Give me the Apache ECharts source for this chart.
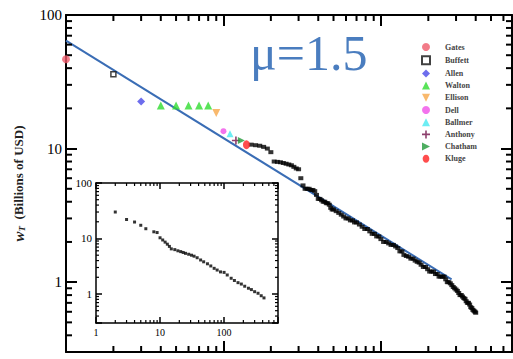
<!DOCTYPE html>
<html>
<head>
<meta charset="utf-8">
<script src="https://cdn.jsdelivr.net/npm/echarts@6/dist/echarts.min.js"></script>
<style>html,body{margin:0;padding:0;background:#fff}#c{width:513px;height:359px}</style>
</head>
<body>
<div id="c"></div>
<script>
// ---- Data ----
const mainRanks = [15,16,17,18,19,20,21,22,23,24,25,26,27,28,29,30,31,32,33,34,35,36,37,38,39,40,41,42,43,44,45,46,47,48,49,50,52,54,56,58,60,62,64,66,68,70,73,76,79,82,85,88,91,94,97,100,104,108,112,116,120,124,128,132,136,140,145,150,155,160,165,170,175,180,186,192,198,204,210,216,222,228,234,240,246,252,258,264,270,276,282,288,294,300,306,312,318,324,330,336,342,348,354,360,366,372,378,384,390,396,400];
const mainWealth = [10.7,10.6,10.5,10.3,10.0,9.4,8.0,7.95,7.9,7.8,7.7,7.6,7.5,7.3,7.1,7.0,6.0,5.3,5.0,5.0,5.0,4.9,4.9,4.8,4.5,4.2,4.2,4.1,4.0,4.0,3.9,3.9,3.8,3.6,3.5,3.5,3.4,3.3,3.2,3.1,3.0,3.0,2.9,2.9,2.8,2.8,2.7,2.6,2.5,2.5,2.4,2.3,2.3,2.2,2.2,2.1,2.0,2.0,1.95,1.9,1.9,1.85,1.8,1.7,1.7,1.6,1.57,1.55,1.5,1.5,1.45,1.42,1.4,1.35,1.3,1.3,1.25,1.2,1.2,1.2,1.15,1.15,1.1,1.1,1.1,1.1,1.05,1.0,1.0,0.98,0.95,0.92,0.9,0.88,0.86,0.83,0.8,0.8,0.78,0.76,0.75,0.72,0.7,0.7,0.68,0.65,0.64,0.62,0.61,0.6,0.59];

const people = ['Gates','Buffett','Allen','Walton','Ellison','Dell','Ballmer','Anthony','Chatham','Kluge'];
const peopleRanks = [[1],[2],[3],[4,5,6,7,8],[9],[10],[11],[12],[13],[14]];
const peopleWealth = [[46.6],[36],[22.5],[21,21,21,21,21],[18.5],[13.5],[12.9],[11.5],[11.5],[10.7]];

const fitRanks = [1, 281];
const fitWealth = [64.3, 1.05];

const insetRanks = [2,3,4,5,6,8,9,10,11,12,13,14,15,17,19,21,23,25,28,31,34,38,43,48,55,62,70,78,88,100,112,129,145,165,186,210,240,267,300,339,380,420];
const insetWealth = [30,22,19.8,17.3,15,13.2,12.8,10.3,9.4,8.6,7.9,7.2,6.5,6.3,6.0,5.8,5.6,5.4,5.2,5.0,4.8,4.5,4.1,3.8,3.5,3.2,2.9,2.7,2.5,2.45,2.2,1.92,1.75,1.6,1.51,1.38,1.27,1.2,1.1,1.03,0.93,0.85];

const majorTickLabels = ['1','10','100'];
const muText = 'μ=1.5';

// ---- styles ----
const peopleStyle = [
  {symbol:'circle', size:8, color:'#ef5a6a'},
  {symbol:'rect', size:5, color:'#ffffff', border:'#111'},
  {symbol:'diamond', size:8, color:'#4848e8'},
  {symbol:'triangle', size:8, color:'#30dc30'},
  {symbol:'path://M0,0 L10,0 L5,10 Z', size:8, color:'#f8a848'},
  {symbol:'circle', size:6, color:'#f050e8'},
  {symbol:'triangle', size:7, color:'#48e8f0'},
  {symbol:'path://M4,0h2v4h4v2h-4v4h-2v-4h-4v-2h4z', size:8, color:'#701048'},
  {symbol:'path://M0,0 L10,5 L0,10 Z', size:7, color:'#229a3a'},
  {symbol:'path://M5,0 C8,0 10,3 10,6 C10,9 8,12 5,12 C2,12 0,9 0,6 C0,3 2,0 5,0 Z', size:[7,9], color:'#ff2020'}
];

const serif = 'Liberation Serif';
const isPow10 = v => Math.abs(Math.log10(v) - Math.round(Math.log10(v))) < 1e-6;
const fmt = v => isPow10(v) ? majorTickLabels[Math.round(Math.log10(v))] || '' : '';

function minorVals(lo, hi) {
  const out = [];
  for (let d = -2; d <= 3; d++) for (let k = 2; k <= 9; k++) {
    const v = k * Math.pow(10, d);
    if (v > lo * 1.0001 && v < hi * 0.9999) out.push(v);
  }
  return out;
}

const MX = [1, 680], MY = [0.3, 100];
const IX = [1, 695], IY = [0.3, 100];

function logAxis(range, pos, grid, showLabel, fs, tickLen, lw) {
  return {
    type: 'log', logBase: 10, min: range[0], max: range[1], gridIndex: grid, position: pos,
    axisLine: {show: true, lineStyle: {color: '#000', width: lw}},
    axisTick: {show: true, inside: true, length: tickLen, lineStyle: {color: '#000', width: lw}},
    axisLabel: {show: showLabel, formatter: fmt, fontFamily: serif, fontSize: fs, color: '#000', margin: 4, showMinLabel: true, showMaxLabel: true},
    splitLine: {show: false}, minorTick: {show: false}
  };
}

function minorXSeries(xi, yi, vals, yRef, len, lw) {
  return {
    type: 'custom', xAxisIndex: xi, yAxisIndex: yi, silent: true, clip: false, z: 5,
    data: vals.map(v => [v, yRef]),
    renderItem: (params, api) => {
      const x = api.coord([api.value(0), yRef])[0];
      const cs = params.coordSys;
      const st = {stroke: '#000', lineWidth: lw};
      return {type: 'group', children: [
        {type: 'line', shape: {x1: x, y1: cs.y + cs.height, x2: x, y2: cs.y + cs.height - len}, style: st},
        {type: 'line', shape: {x1: x, y1: cs.y, x2: x, y2: cs.y + len}, style: st}
      ]};
    }
  };
}
function minorYSeries(xi, yi, vals, xRef, len, lw) {
  return {
    type: 'custom', xAxisIndex: xi, yAxisIndex: yi, silent: true, clip: false, z: 5,
    data: vals.map(v => [xRef, v]),
    renderItem: (params, api) => {
      const y = api.coord([xRef, api.value(1)])[1];
      const cs = params.coordSys;
      const st = {stroke: '#000', lineWidth: lw};
      return {type: 'group', children: [
        {type: 'line', shape: {x1: cs.x, y1: y, x2: cs.x + len, y2: y}, style: st},
        {type: 'line', shape: {x1: cs.x + cs.width, y1: y, x2: cs.x + cs.width - len, y2: y}, style: st}
      ]};
    }
  };
}

const series = [];
series.push({
  name: 'fit', type: 'line', xAxisIndex: 0, yAxisIndex: 0, symbol: 'none', z: 3,
  lineStyle: {color: '#3a6db5', width: 2}, data: fitRanks.map((r, i) => [r, fitWealth[i]])
});
series.push({
  name: 'all', type: 'scatter', xAxisIndex: 0, yAxisIndex: 0, symbol: 'rect', symbolSize: [5, 4], z: 4,
  itemStyle: {color: '#000'}, data: mainRanks.map((r, i) => [r, mainWealth[i]])
});
people.forEach((p, i) => {
  const s = peopleStyle[i];
  series.push({
    name: p, type: 'scatter', xAxisIndex: 0, yAxisIndex: 0, clip: false, z: 6,
    symbol: s.symbol, symbolSize: s.size,
    itemStyle: {color: s.color, borderColor: s.border || s.color, borderWidth: s.border ? 1.5 : 0},
    data: peopleRanks[i].map((r, j) => [r, peopleWealth[i][j]])
  });
});
series.push({
  name: 'inset', type: 'scatter', xAxisIndex: 2, yAxisIndex: 2, symbol: 'rect', symbolSize: [3, 3], z: 12,
  itemStyle: {color: '#000'}, data: insetRanks.map((r, i) => [r, insetWealth[i]])
});
series.push(minorXSeries(0, 0, minorVals(MX[0], MX[1]), 1, 6, 2));
series.push(minorYSeries(0, 0, minorVals(MY[0], MY[1]), 1, 6, 2));
series.push(Object.assign(minorXSeries(2, 2, minorVals(IX[0], IX[1]), 1, 3, 1.2), {z: 12}));
series.push(Object.assign(minorYSeries(2, 2, minorVals(IY[0], IY[1]), 1, 3, 1.2), {z: 12}));

const option = {
  animation: false,
  backgroundColor: '#fff',
  grid: [
    {left: 66, top: 15, width: 446, height: 337, outerBoundsMode: 'none', containLabel: false},
    {left: 96, top: 183, width: 182, height: 140, show: true, backgroundColor: '#fff', borderWidth: 0, z: 10, outerBoundsMode: 'none', containLabel: false}
  ],
  xAxis: [
    logAxis(MX, 'bottom', 0, true, 15, 11, 2),
    logAxis(MX, 'top', 0, false, 15, 11, 2),
    Object.assign(logAxis(IX, 'bottom', 1, true, 10, 6, 1.5), {z: 12}),
    Object.assign(logAxis(IX, 'top', 1, false, 10, 6, 1.5), {z: 12})
  ],
  yAxis: [
    Object.assign(logAxis(MY, 'left', 0, true, 15, 11, 2), {
      name: '{w|w}{t|T}  (Billions of USD)', nameLocation: 'middle', nameGap: 40, nameRotate: 90,
      nameTextStyle: {fontFamily: serif, fontSize: 13, fontWeight: 'bold', color: '#222',
        rich: {w: {fontFamily: serif, fontSize: 15, fontStyle: 'italic', color: '#222'},
               t: {fontFamily: serif, fontSize: 9, fontStyle: 'italic', color: '#222', verticalAlign: 'bottom', padding: [6, 0, 0, 0]}}}
    }),
    logAxis(MY, 'right', 0, false, 15, 11, 2),
    Object.assign(logAxis(IY, 'left', 1, true, 11, 6, 1.5), {z: 12}),
    Object.assign(logAxis(IY, 'right', 1, false, 11, 6, 1.5), {z: 12})
  ],
  legend: {
    data: people, orient: 'vertical', left: 421, top: 43, padding: 0,
    itemWidth: 8, itemHeight: 8, itemGap: 4.2, selectedMode: false,
    textStyle: {fontFamily: serif, fontSize: 8, fontWeight: 'bold', color: '#444', lineHeight: 8, padding: [0, 0, 0, 10]}
  },
  graphic: [{
    type: 'text', left: 250, top: 28,
    style: {text: muText, fontFamily: serif, fontSize: 50, fill: '#4a7dbf'}
  }],
  series: series
};

const chart = echarts.init(document.getElementById('c'), null, {renderer: 'svg'});
chart.setOption(option);
</script>
</body>
</html>
